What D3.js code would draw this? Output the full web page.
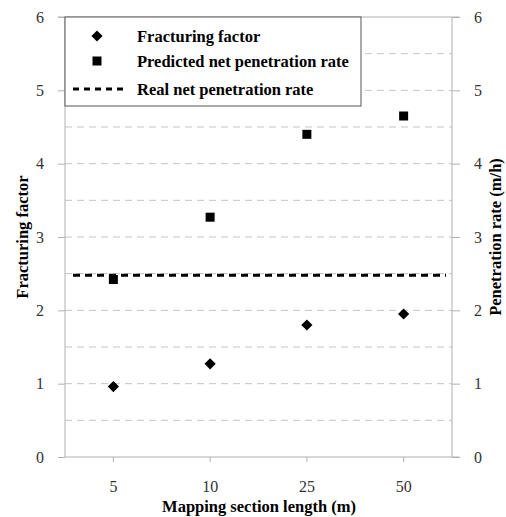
<!DOCTYPE html>
<html>
<head>
<meta charset="utf-8">
<script src="https://cdn.jsdelivr.net/npm/d3@7"></script>
<style>
  html, body { margin: 0; padding: 0; background: #fff; }
  svg { display: block; }
  text { font-family: "Liberation Serif", "Times New Roman", serif; }
</style>
</head>
<body>
<svg id="chart" width="506" height="517"></svg>
<script>
// Mapping section lengths (m) and measured series
const sectionLengths = ["5", "10", "25", "50"];
const fracturingFactor = [0.96, 1.27, 1.80, 1.95];
const predictedRate = [2.42, 3.27, 4.40, 4.65];
const realRate = 2.48;
const yTicks = [0, 1, 2, 3, 4, 5, 6];
const gridValues = [0.5, 1, 1.5, 2, 2.5, 3, 3.5, 4, 4.5, 5, 5.5];

const svg = d3.select("#chart");
const plot = { left: 65, right: 452, top: 17, bottom: 457 };

const x = d3.scaleBand().domain(sectionLengths).range([plot.left, plot.right]);
const xc = d => x(d) + x.bandwidth() / 2;
const yL = d3.scaleLinear().domain([0, 6]).range([plot.bottom, plot.top]);
const yR = d3.scaleLinear().domain([0, 6]).range([plot.bottom, plot.top]);

const axisGrey = "#b0b0b0";

// dashed horizontal gridlines
svg.append("g").selectAll("line").data(gridValues).join("line")
  .attr("x1", plot.left).attr("x2", plot.right)
  .attr("y1", d => yL(d)).attr("y2", d => yL(d))
  .attr("stroke", "#c4c4c4").attr("stroke-width", 1)
  .attr("stroke-dasharray", "7,5");

// top border
svg.append("line")
  .attr("x1", plot.left - 7).attr("x2", plot.right + 7)
  .attr("y1", yL(6)).attr("y2", yL(6))
  .attr("stroke", axisGrey);

// left axis
const leftAxis = svg.append("g")
  .attr("transform", `translate(${plot.left},0)`)
  .call(d3.axisLeft(yL).tickValues(yTicks).tickSize(7).tickPadding(14).tickFormat(d3.format("d")));
// right axis
const rightAxis = svg.append("g")
  .attr("transform", `translate(${plot.right},0)`)
  .call(d3.axisRight(yR).tickValues(yTicks).tickSize(8).tickPadding(14).tickFormat(d3.format("d")));
// bottom axis
const bottomAxis = svg.append("g")
  .attr("transform", `translate(0,${plot.bottom})`)
  .call(d3.axisBottom(x).tickSize(5).tickPadding(19));

[leftAxis, rightAxis, bottomAxis].forEach(g => {
  g.attr("font-family", null);
  g.select(".domain").attr("stroke", axisGrey);
  g.selectAll(".tick line").attr("stroke", axisGrey);
  g.selectAll(".tick text")
    .attr("fill", "#333")
    .style("font-family", "'Liberation Serif', serif")
    .style("font-size", "16px");
});
bottomAxis.select(".domain").attr("d", `M${plot.left},0H${plot.right + 7}`);
leftAxis.select(".domain").attr("d", `M0,${plot.top}V${plot.bottom}`);
rightAxis.select(".domain").attr("d", `M0,${plot.top}V${plot.bottom}`);

// axis titles
svg.append("text")
  .attr("transform", `translate(22,${(plot.top + plot.bottom) / 2}) rotate(-90)`)
  .attr("text-anchor", "middle").attr("dominant-baseline", "central")
  .style("font-weight", "bold").style("font-size", "16.5px")
  .text("Fracturing factor");
svg.append("text")
  .attr("transform", `translate(495,${(plot.top + plot.bottom) / 2}) rotate(-90)`)
  .attr("text-anchor", "middle").attr("dominant-baseline", "central")
  .style("font-weight", "bold").style("font-size", "16.5px")
  .text("Penetration rate (m/h)");
svg.append("text")
  .attr("x", 259).attr("y", 512)
  .attr("text-anchor", "middle")
  .style("font-weight", "bold").style("font-size", "16.5px")
  .text("Mapping section length (m)");

// real net penetration rate (dashed reference line)
svg.append("line")
  .attr("x1", plot.left + 8).attr("x2", plot.right - 6)
  .attr("y1", yR(realRate)).attr("y2", yR(realRate))
  .attr("stroke", "#000").attr("stroke-width", 3)
  .attr("stroke-dasharray", "7,5");

// predicted net penetration rate (squares)
svg.append("g").selectAll("rect").data(sectionLengths).join("rect")
  .attr("x", (d, i) => xc(d) - 4.5).attr("y", (d, i) => yR(predictedRate[i]) - 4.5)
  .attr("width", 9).attr("height", 9).attr("fill", "#000");

// fracturing factor (diamonds)
const diamond = d3.symbol().type(d3.symbolDiamond2).size(80);
svg.append("g").selectAll("path").data(sectionLengths).join("path")
  .attr("d", diamond)
  .attr("transform", (d, i) => `translate(${xc(d)},${yL(fracturingFactor[i])})`)
  .attr("fill", "#000");

// legend
const legend = svg.append("g");
legend.append("rect")
  .attr("x", plot.left).attr("y", plot.top).attr("width", 296).attr("height", 89)
  .attr("fill", "#fff").attr("stroke", "#555").attr("stroke-width", 1);
const legendItems = [
  { label: "Fracturing factor", y: 36, kind: "diamond" },
  { label: "Predicted net penetration rate", y: 61, kind: "square" },
  { label: "Real net penetration rate", y: 89, kind: "line" }
];
legendItems.forEach(item => {
  if (item.kind === "diamond") {
    legend.append("path").attr("d", diamond)
      .attr("transform", `translate(97,${item.y})`).attr("fill", "#000");
  } else if (item.kind === "square") {
    legend.append("rect").attr("x", 92.5).attr("y", item.y - 4.5)
      .attr("width", 9).attr("height", 9).attr("fill", "#000");
  } else {
    legend.append("line").attr("x1", 73).attr("x2", 124)
      .attr("y1", item.y).attr("y2", item.y)
      .attr("stroke", "#000").attr("stroke-width", 3).attr("stroke-dasharray", "6,5");
  }
  legend.append("text")
    .attr("x", 137).attr("y", item.y).attr("dominant-baseline", "central")
    .style("font-weight", "bold").style("font-size", "16.5px")
    .text(item.label);
});
</script>
</body>
</html>
